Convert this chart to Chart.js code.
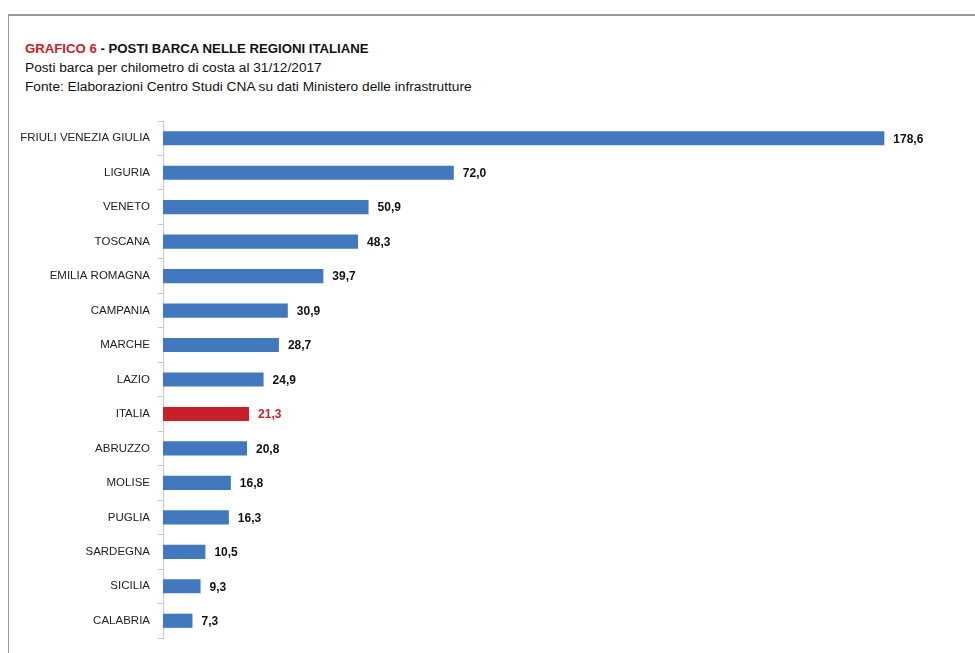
<!DOCTYPE html>
<html>
<head>
<meta charset="utf-8">
<script src="https://cdn.jsdelivr.net/npm/chart.js@4"></script>
<style>
  html, body { margin: 0; padding: 0; background: #fff; }
  #wrap { position: relative; width: 975px; height: 653px; overflow: hidden; }
  #frame { position: absolute; left: 8px; top: 14px; width: 1000px; height: 700px;
           border-top: 2px solid #9a9a9a; border-left: 1px solid #9a9a9a; }
  .hd { position: absolute; left: 25px; font-family: 'Liberation Sans', sans-serif; color: #111; white-space: nowrap; }
  #t1 { top: 41px; font-size: 13.2px; font-weight: bold; }
  #t1 span { color: #c8202a; }
  #t2 { top: 60px; font-size: 13.7px; }
  #t3 { top: 79px; font-size: 13.7px; }
  canvas { position: absolute; left: 0; top: 0; }
</style>
</head>
<body>
<div id="wrap">
  <div id="frame"></div>
  <div class="hd" id="t1"><span>GRAFICO 6</span> - POSTI BARCA NELLE REGIONI ITALIANE</div>
  <div class="hd" id="t2">Posti barca per chilometro di costa al 31/12/2017</div>
  <div class="hd" id="t3">Fonte: Elaborazioni Centro Studi CNA su dati Ministero delle infrastrutture</div>
  <canvas id="chart" width="975" height="653"></canvas>
</div>
<script>
const regions = ['FRIULI VENEZIA GIULIA', 'LIGURIA', 'VENETO', 'TOSCANA', 'EMILIA ROMAGNA', 'CAMPANIA',
  'MARCHE', 'LAZIO', 'ITALIA', 'ABRUZZO', 'MOLISE', 'PUGLIA', 'SARDEGNA', 'SICILIA', 'CALABRIA'];
const postiPerKm = [178.6, 72.0, 50.9, 48.3, 39.7, 30.9, 28.7, 24.9, 21.3, 20.8, 16.8, 16.3, 10.5, 9.3, 7.3];

const BLUE = '#4178be';
const RED = '#c8202a';
const FONT = "'Liberation Sans', sans-serif";

const barColors = regions.map(r => r === 'ITALIA' ? RED : BLUE);

// value labels to the right of each bar, italian decimal comma
const valueLabels = {
  id: 'valueLabels',
  afterDatasetsDraw(chart) {
    const ctx = chart.ctx;
    const meta = chart.getDatasetMeta(0);
    ctx.save();
    ctx.font = 'bold 12px ' + FONT;
    ctx.textBaseline = 'middle';
    meta.data.forEach((bar, i) => {
      ctx.fillStyle = regions[i] === 'ITALIA' ? RED : '#111';
      ctx.fillText(postiPerKm[i].toFixed(1).replace('.', ','), bar.x + 9, bar.y + 1);
    });
    ctx.restore();
  }
};

new Chart(document.getElementById('chart'), {
  type: 'bar',
  data: {
    labels: regions,
    datasets: [{
      data: postiPerKm,
      backgroundColor: barColors,
      barPercentage: 0.82,
      categoryPercentage: 0.5
    }]
  },
  options: {
    indexAxis: 'y',
    responsive: false,
    animation: false,
    layout: { padding: { left: 0, top: 121, right: 85, bottom: 15 } },
    plugins: { legend: { display: false }, tooltip: { enabled: false } },
    scales: {
      x: { display: false, min: 0, max: 180 },
      y: {
        afterFit(scale) { scale.width = 163; },
        border: { color: '#c8c8c8' },
        grid: { offset: true, drawOnChartArea: false, tickLength: 5, color: '#c8c8c8' },
        ticks: { color: '#222', padding: 8, font: { family: FONT, size: 11.5 } }
      }
    }
  },
  plugins: [valueLabels]
});
</script>
</body>
</html>
